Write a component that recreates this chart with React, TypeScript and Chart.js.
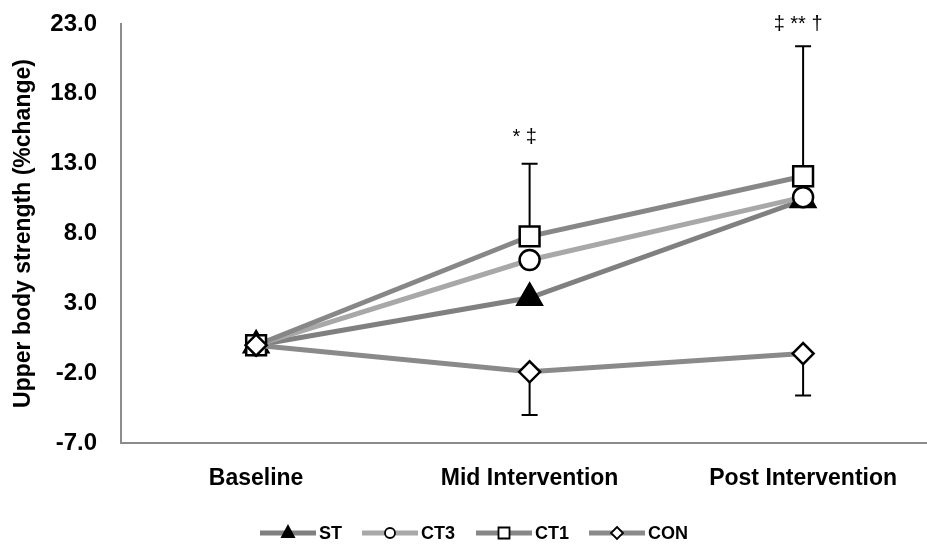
import React, { useEffect, useRef } from "react";
import { Chart, registerables } from "chart.js";

Chart.register(...registerables);

const categories = ["Baseline", "Mid Intervention", "Post Intervention"];
const yTicks = [-7, -2, 3, 8, 13, 18, 23];
const stValues = [0, 3.4, 10.4];
const ct3Values = [0, 6.1, 10.6];
const ct1Values = [0, 7.8, 12.1];
const conValues = [0, -1.9, -0.6];
const ct1ErrUp = [0, 5.2, 9.3];
const conErrDown = [0, 3.1, 3.0];
const annotations = ["", "* \u2021", "\u2021 ** \u2020"];
const yTitle = "Upper body strength (%change)";
const legendLabels = ["ST", "CT3", "CT1", "CON"];

const FONT = "'Liberation Sans', Arial, sans-serif";

const lineColors = ["#808080", "#a8a8a8", "#878787", "#8a8a8a"];
const pointStyles = ["triangle", "circle", "rect", "rectRot"];
const pointRadii = [14, 10, 14, 10.5];
const pointFills = ["#000000", "#ffffff", "#ffffff", "#ffffff"];
const annoGap = [0, 26, 22];

export default function App() {
  const ref = useRef<HTMLCanvasElement | null>(null);

  useEffect(() => {
    if (!ref.current) return;
    const seriesValues = [stValues, ct3Values, ct1Values, conValues];

    const mkData = (vals: number[]) => vals.map((v, i) => ({ x: i, y: v }));

    const extras = {
      id: "extras",
      beforeDatasetsDraw(chart: any) {
        const { ctx } = chart;
        const xs = chart.scales.x;
        const ys = chart.scales.y;
        ctx.save();
        ctx.strokeStyle = "#000";
        ctx.lineWidth = 2;
        const drawBar = (i: number, v: number, e: number) => {
          if (!e) return;
          const x = xs.getPixelForValue(i);
          const y0 = ys.getPixelForValue(v);
          const y1 = ys.getPixelForValue(v + e);
          ctx.beginPath();
          ctx.moveTo(x, y0);
          ctx.lineTo(x, y1);
          ctx.moveTo(x - 8, y1);
          ctx.lineTo(x + 8, y1);
          ctx.stroke();
        };
        ct1Values.forEach((v, i) => drawBar(i, v, ct1ErrUp[i]));
        conValues.forEach((v, i) => drawBar(i, v, -conErrDown[i]));
        ctx.restore();
      },
      afterDraw(chart: any) {
        const { ctx } = chart;
        const xs = chart.scales.x;
        const ys = chart.scales.y;
        ctx.save();
        // annotations
        ctx.fillStyle = "#000";
        ctx.font = "20px " + FONT;
        ctx.textAlign = "center";
        ctx.textBaseline = "middle";
        annotations.forEach((t, i) => {
          if (!t) return;
          const x = xs.getPixelForValue(i);
          const top = ys.getPixelForValue(ct1Values[i] + ct1ErrUp[i]);
          ctx.fillText(t, x - 5, top - annoGap[i]);
        });
        // legend
        const legendY = 533;
        const starts = [260, 362, 476, 589];
        const lineLen = 56;
        legendLabels.forEach((lab, k) => {
          const x0 = starts[k];
          ctx.strokeStyle = lineColors[k];
          ctx.lineWidth = 5;
          ctx.beginPath();
          ctx.moveTo(x0, legendY);
          ctx.lineTo(x0 + lineLen, legendY);
          ctx.stroke();
          const cx = x0 + lineLen / 2;
          ctx.fillStyle = pointFills[k];
          ctx.strokeStyle = "#000";
          ctx.lineWidth = 1.8;
          ctx.beginPath();
          if (k === 0) {
            ctx.moveTo(cx, legendY - 7);
            ctx.lineTo(cx + 6, legendY + 4);
            ctx.lineTo(cx - 6, legendY + 4);
            ctx.closePath();
          } else if (k === 1) {
            ctx.arc(cx, legendY, 5, 0, Math.PI * 2);
          } else if (k === 2) {
            ctx.rect(cx - 5.5, legendY - 5.5, 11, 11);
          } else {
            ctx.moveTo(cx, legendY - 6);
            ctx.lineTo(cx + 6, legendY);
            ctx.lineTo(cx, legendY + 6);
            ctx.lineTo(cx - 6, legendY);
            ctx.closePath();
          }
          ctx.fill();
          ctx.stroke();
          ctx.fillStyle = "#000";
          ctx.font = "bold 18px " + FONT;
          ctx.textAlign = "left";
          ctx.textBaseline = "middle";
          ctx.fillText(lab, x0 + lineLen + 3, legendY + 1);
        });
        ctx.restore();
      },
    };

    const chart = new Chart(ref.current, {
      type: "line",
      data: {
        datasets: seriesValues.map((vals, k) => ({
          label: legendLabels[k],
          data: mkData(vals),
          borderColor: lineColors[k],
          borderWidth: 5,
          pointStyle: pointStyles[k] as any,
          pointRadius: pointRadii[k],
          pointBackgroundColor: pointFills[k],
          pointBorderColor: "#000",
          pointBorderWidth: 2.5,
          fill: false,
          tension: 0,
          order: 4 - k,
        })),
      },
      options: {
        animation: false,
        responsive: false,
        maintainAspectRatio: false,
        layout: { autoPadding: false, padding: { top: 24, right: 0, bottom: 0, left: 0 } },
        plugins: {
          legend: { display: false },
          tooltip: { enabled: false },
        },
        scales: {
          x: {
            type: "linear",
            min: -0.494,
            max: 2.453,
            afterBuildTicks: (s: any) => {
              s.ticks = categories.map((_, i) => ({ value: i }));
            },
            afterFit: (s: any) => {
              s.height = 107;
              s.paddingLeft = 0;
              s.paddingRight = 0;
            },
            grid: { display: false, drawTicks: false },
            border: { display: true, color: "#8c8c8c", width: 2 },
            ticks: {
              callback: (v: any) => categories[v as number] ?? "",
              font: { family: FONT, size: 23, weight: "bold" },
              color: "#000",
              padding: 22,
              maxRotation: 0,
              autoSkip: false,
            },
          },
          y: {
            type: "linear",
            min: -7,
            max: 23,
            afterBuildTicks: (s: any) => {
              s.ticks = yTicks.map((v) => ({ value: v }));
            },
            afterFit: (s: any) => {
              s.width = 121;
              s.paddingTop = 0;
              s.paddingBottom = 0;
            },
            grid: { display: false, drawTicks: false },
            border: { display: true, color: "#8c8c8c", width: 2 },
            ticks: {
              callback: (v: any) => Number(v).toFixed(1),
              font: { family: FONT, size: 24, weight: "bold" },
              color: "#000",
              padding: 24,
            },
            title: {
              display: true,
              text: yTitle,
              font: { family: FONT, size: 23, weight: "bold" },
              color: "#000",
              padding: { top: 10, bottom: 0 },
            },
          },
        },
      },
      plugins: [extras],
    });
    return () => chart.destroy();
  }, []);

  return (
    <div style={{ position: "absolute", left: 0, top: 0, width: 927, height: 550, background: "#fff" }}>
      <canvas ref={ref} width={927} height={550} />
    </div>
  );
}
